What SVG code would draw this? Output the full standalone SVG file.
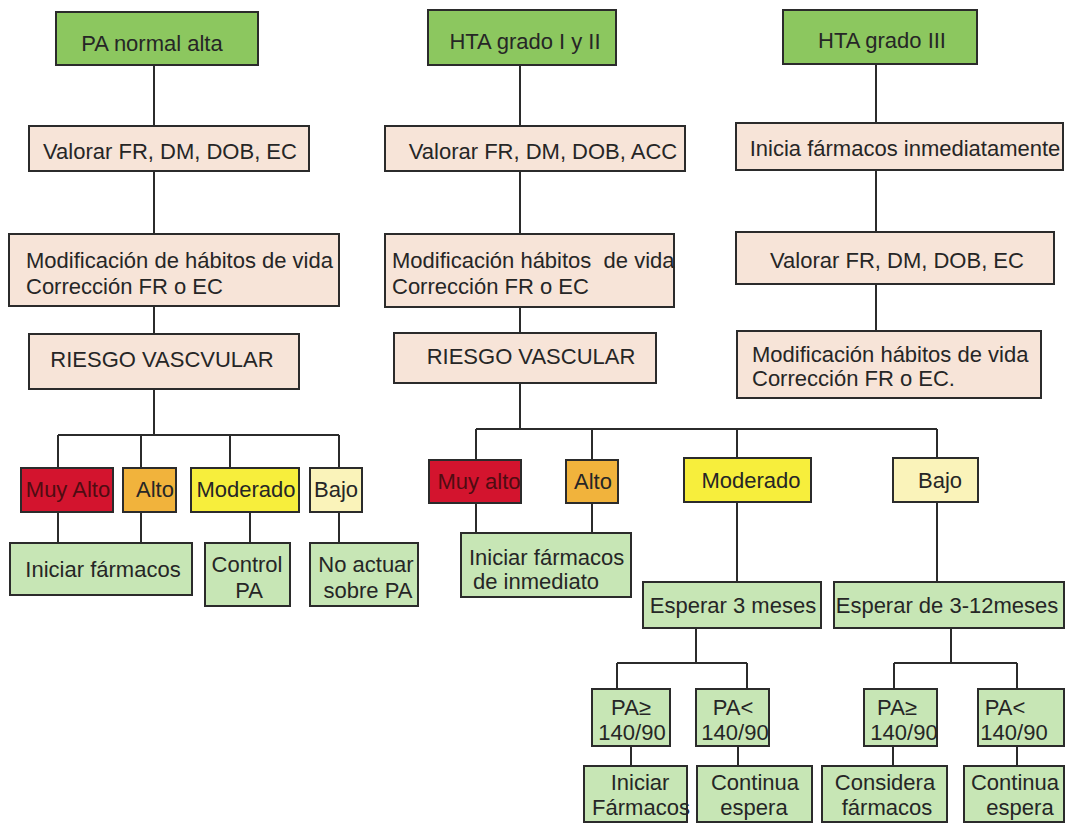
<svg xmlns="http://www.w3.org/2000/svg" width="1074" height="825" viewBox="0 0 1074 825">
<style>
.bgc{fill:#ffffff}
rect.n{stroke:#2b2b2b;stroke-width:2}
.g1{fill:#8cc75f}
.bz{fill:#f7e4d8}
.lg{fill:#c7e6b5}
.red{fill:#d3142e}
.org{fill:#f1b33c}
.yel{fill:#f7ee3c}
.ly{fill:#faf3ba}
text{font-family:"Liberation Sans",Arial,Helvetica,sans-serif;font-size:22px;fill:#262626}
text.c{text-anchor:middle}
text.dk{fill:#4f0c12}
.conn path{stroke:#2b2b2b;stroke-width:2;fill:none}
</style>
<rect class="bgc" x="0" y="0" width="1074" height="825"/>

<g class="conn" id="connectors">
<!-- column 1 -->
<path d="M154 65V126M154 171V234M154 306V334M154 389V435"/>
<path d="M58 435H339M58 435V468M141 435V468M230 435V468M339 435V468"/>
<path d="M58 512V543M141 512V543M250 512V543M339 512V543"/>
<!-- column 2 -->
<path d="M520 65V126M520 171V234M520 307V333M520 383V429"/>
<path d="M476 429H937M476 429V460M592 429V460M737 429V458M937 429V458"/>
<path d="M476 503V533M592 503V533M737 502V582M937 502V582"/>
<path d="M696 628V663M617 663H747M617 663V689M747 663V689"/>
<path d="M951 628V663M894 663H1017M894 663V689M1017 663V689"/>
<path d="M631 746V766M738 746V766M893 746V766M1017 746V766"/>
<!-- column 3 -->
<path d="M876 64V123M876 170V232M876 284V331"/>
</g>

<g id="pa_normal_alta"><rect class="n g1" x="56" y="12" width="202" height="53"/><text class="c" x="152" y="51">PA normal alta</text></g>
<g id="valorar1"><rect class="n bz" x="29" y="126" width="280" height="45"/><text class="c" x="170" y="159">Valorar FR, DM, DOB, EC</text></g>
<g id="modif1"><rect class="n bz" x="9" y="234" width="330" height="72"/><text x="26" y="268">Modificación de hábitos de vida</text><text x="26" y="294">Corrección FR o EC</text></g>
<g id="riesgo1"><rect class="n bz" x="29" y="334" width="270" height="55"/><text class="c" x="162" y="367">RIESGO VASCVULAR</text></g>
<g id="muyalto1"><rect class="n red" x="21" y="468" width="92" height="44"/><text class="c dk" x="68" y="497">Muy Alto</text></g>
<g id="alto1"><rect class="n org" x="123" y="468" width="53" height="44"/><text class="c" x="155" y="497">Alto</text></g>
<g id="moderado1"><rect class="n yel" x="191" y="468" width="108" height="44"/><text class="c" x="246" y="497">Moderado</text></g>
<g id="bajo1"><rect class="n ly" x="310" y="468" width="52" height="44"/><text class="c" x="336" y="497">Bajo</text></g>
<g id="iniciar1"><rect class="n lg" x="10" y="543" width="182" height="52"/><text class="c" x="103" y="577">Iniciar fármacos</text></g>
<g id="control1"><rect class="n lg" x="205" y="543" width="85" height="63"/><text class="c" x="247" y="572">Control</text><text class="c" x="249" y="598">PA</text></g>
<g id="noactuar1"><rect class="n lg" x="310" y="543" width="108" height="63"/><text class="c" x="366" y="572">No actuar</text><text class="c" x="368" y="598">sobre PA</text></g>

<g id="hta12"><rect class="n g1" x="428" y="10" width="188" height="55"/><text class="c" x="525" y="49">HTA grado I y II</text></g>
<g id="valorar2"><rect class="n bz" x="385" y="126" width="300" height="45"/><text class="c" x="543" y="159">Valorar FR, DM, DOB, ACC</text></g>
<g id="modif2"><rect class="n bz" x="385" y="234" width="289" height="73"/><text x="392" y="268" xml:space="preserve" style="white-space:pre">Modificación hábitos  de vida</text><text x="392" y="294">Corrección FR o EC</text></g>
<g id="riesgo2"><rect class="n bz" x="394" y="333" width="262" height="50"/><text class="c" x="531" y="364">RIESGO VASCULAR</text></g>
<g id="muyalto2"><rect class="n red" x="429" y="460" width="92" height="43"/><text class="c dk" x="479" y="489">Muy alto</text></g>
<g id="alto2"><rect class="n org" x="566" y="460" width="52" height="43"/><text class="c" x="593" y="489">Alto</text></g>
<g id="moderado2"><rect class="n yel" x="684" y="458" width="127" height="44"/><text class="c" x="751" y="488">Moderado</text></g>
<g id="bajo2"><rect class="n ly" x="893" y="458" width="85" height="44"/><text class="c" x="940" y="488">Bajo</text></g>
<g id="iniciar2"><rect class="n lg" x="461" y="533" width="170" height="64"/><text x="469" y="565">Iniciar fármacos</text><text x="473" y="589">de inmediato</text></g>
<g id="esperar3"><rect class="n lg" x="643" y="582" width="178" height="46"/><text class="c" x="733" y="613">Esperar 3 meses</text></g>
<g id="esperar312"><rect class="n lg" x="834" y="582" width="230" height="46"/><text class="c" x="947" y="613">Esperar de 3-12meses</text></g>
<g id="pa_ge_a"><rect class="n lg" x="592" y="689" width="78" height="57"/><text class="c" x="631" y="715">PA≥</text><text class="c" x="632" y="740">140/90</text></g>
<g id="pa_lt_a"><rect class="n lg" x="696" y="689" width="73" height="57"/><text class="c" x="733" y="715">PA&lt;</text><text class="c" x="735" y="740">140/90</text></g>
<g id="pa_ge_b"><rect class="n lg" x="864" y="689" width="73" height="57"/><text class="c" x="897" y="715">PA≥</text><text class="c" x="904" y="740">140/90</text></g>
<g id="pa_lt_b"><rect class="n lg" x="978" y="689" width="86" height="57"/><text class="c" x="1005" y="715">PA&lt;</text><text class="c" x="1014" y="740">140/90</text></g>
<g id="iniciar_farm"><rect class="n lg" x="584" y="766" width="103" height="56"/><text class="c" x="640" y="790">Iniciar</text><text class="c" x="641" y="815">Fármacos</text></g>
<g id="continua_a"><rect class="n lg" x="697" y="766" width="115" height="56"/><text class="c" x="755" y="790">Continua</text><text class="c" x="754" y="815">espera</text></g>
<g id="considera"><rect class="n lg" x="822" y="766" width="125" height="56"/><text class="c" x="885" y="790">Considera</text><text class="c" x="887" y="815">fármacos</text></g>
<g id="continua_b"><rect class="n lg" x="964" y="766" width="100" height="56"/><text class="c" x="1015" y="790">Continua</text><text class="c" x="1020" y="815">espera</text></g>

<g id="hta3"><rect class="n g1" x="783" y="10" width="194" height="54"/><text class="c" x="882" y="48">HTA grado III</text></g>
<g id="inicia3"><rect class="n bz" x="736" y="123" width="327" height="47"/><text class="c" x="905" y="156">Inicia fármacos inmediatamente</text></g>
<g id="valorar3"><rect class="n bz" x="736" y="232" width="318" height="52"/><text class="c" x="897" y="268">Valorar FR, DM, DOB, EC</text></g>
<g id="modif3"><rect class="n bz" x="737" y="331" width="304" height="67"/><text x="752" y="362">Modificación hábitos de vida</text><text x="752" y="386">Corrección FR o EC.</text></g>
</svg>
